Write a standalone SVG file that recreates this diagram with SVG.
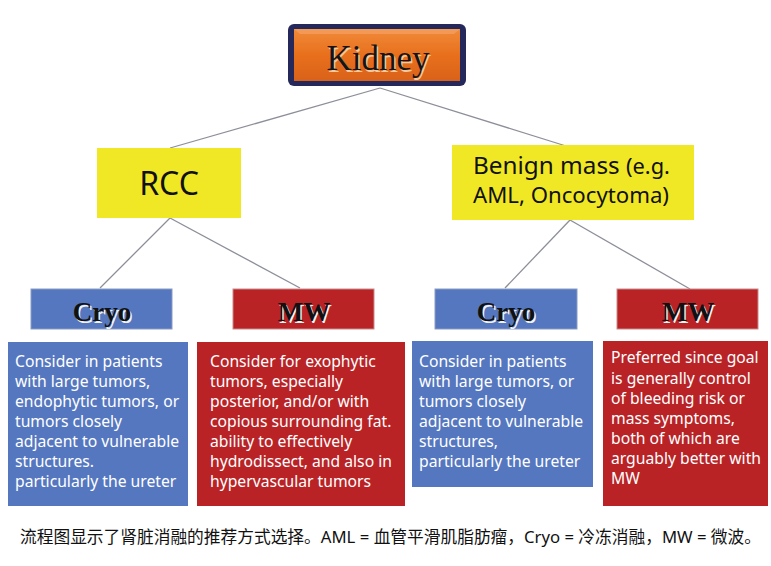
<svg xmlns="http://www.w3.org/2000/svg" width="771" height="566" viewBox="0 0 771 566">
<style>
.conn{stroke:#8c8f99;stroke-width:1.3;fill:none}
.yel{fill:#f1e825}
.blue{fill:#5577bf}
.red{fill:#b92326}
.hdr{fill:#5577bf;stroke:#8a9bc4;stroke-width:1}
.hdrr{fill:#b92326;stroke:#c98a8a;stroke-width:1}
.lbl{font-family:"Liberation Serif",serif;font-weight:bold;font-size:27px;text-anchor:middle;fill:#111}
.lblsh{font-family:"Liberation Serif",serif;font-weight:bold;font-size:27px;text-anchor:middle;fill:#f2f2f2}
.sans{font-family:"Noto Sans","Open Sans",sans-serif}
.desc{font-family:"Noto Sans","Open Sans",sans-serif;font-size:15.7px;fill:#fff}
.cap{font-family:"Noto Sans","Noto Sans CJK SC",sans-serif;font-size:16.8px;fill:#111}
</style>
<defs>
<linearGradient id="og" x1="0" y1="0" x2="0" y2="1">
<stop offset="0" stop-color="#f08a3a"/>
<stop offset="0.5" stop-color="#e8701c"/>
<stop offset="1" stop-color="#d9621a"/>
</linearGradient>
</defs>
<rect width="771" height="566" fill="#fff"/>
<g id="connectors">
<line class="conn" x1="380" y1="88" x2="170" y2="148"/>
<line class="conn" x1="380" y1="88" x2="566" y2="146"/>
<line class="conn" x1="170" y1="218" x2="100" y2="288"/>
<line class="conn" x1="170" y1="218" x2="300" y2="288"/>
<line class="conn" x1="570" y1="220" x2="505" y2="288"/>
<line class="conn" x1="570" y1="220" x2="690" y2="289"/>
</g>
<g id="kidney">
<rect x="288" y="24" width="178" height="62" rx="6" fill="#25285a"/>
<rect x="294" y="29" width="166" height="52" fill="url(#og)"/>
<path d="M294 29 L460 29 L454 34 L300 34 Z" fill="#f5a56a" opacity="0.6"/>
<text x="379.5" y="71.5" font-family="'Liberation Serif',serif" font-size="35" text-anchor="middle" fill="#f6c9a0">Kidney</text>
<text x="378" y="70" font-family="'Liberation Serif',serif" font-size="35" text-anchor="middle" fill="#151515">Kidney</text>
</g>
<g id="rcc">
<rect class="yel" x="97" y="148" width="144" height="70"/>
<text class="sans" x="169" y="195" font-size="32" text-anchor="middle" fill="#111">RCC</text>
</g>
<g id="benign">
<rect class="yel" x="452" y="145" width="242" height="75"/>
<text class="sans" x="473" y="174" font-size="24.3" fill="#111">Benign mass <tspan font-size="21.8">(e.g.</tspan></text>
<text class="sans" x="473" y="203" font-size="22.2" fill="#111">AML, Oncocytoma)</text>
</g>
<g id="cryo1">
<rect class="hdr" x="31" y="289" width="141" height="40"/>
<text class="lblsh" x="103.5" y="322.5">Cryo</text>
<text class="lbl" x="102" y="321">Cryo</text>
</g>
<g id="mw1">
<rect class="hdrr" x="233" y="289" width="141" height="40"/>
<text class="lblsh" x="305.5" y="322.5">MW</text>
<text class="lbl" x="304" y="321">MW</text>
</g>
<g id="cryo2">
<rect class="hdr" x="435" y="289" width="142" height="40"/>
<text class="lblsh" x="507.5" y="322.5">Cryo</text>
<text class="lbl" x="506" y="321">Cryo</text>
</g>
<g id="mw2">
<rect class="hdrr" x="617" y="289" width="141" height="40"/>
<text class="lblsh" x="689.5" y="322.5">MW</text>
<text class="lbl" x="688" y="321">MW</text>
</g>
<g id="desc-cryo1">
<rect class="blue" x="8" y="342" width="180" height="164"/>
<text class="desc" x="15" y="367">Consider in patients</text>
<text class="desc" x="15" y="387">with large tumors,</text>
<text class="desc" x="15" y="407">endophytic tumors, or</text>
<text class="desc" x="15" y="427">tumors closely</text>
<text class="desc" x="15" y="447">adjacent to vulnerable</text>
<text class="desc" x="15" y="467">structures.</text>
<text class="desc" x="15" y="487">particularly the ureter</text>
</g>
<g id="desc-mw1">
<rect class="red" x="197" y="342" width="208" height="164"/>
<text class="desc" x="210" y="367">Consider for exophytic</text>
<text class="desc" x="210" y="387">tumors, especially</text>
<text class="desc" x="210" y="407">posterior, and/or with</text>
<text class="desc" x="210" y="427">copious surrounding fat.</text>
<text class="desc" x="210" y="447">ability to effectively</text>
<text class="desc" x="210" y="467">hydrodissect, and also in</text>
<text class="desc" x="210" y="487">hypervascular tumors</text>
</g>
<g id="desc-cryo2">
<rect class="blue" x="412" y="341" width="181" height="146"/>
<text class="desc" x="419" y="367">Consider in patients</text>
<text class="desc" x="419" y="387">with large tumors, or</text>
<text class="desc" x="419" y="407">tumors closely</text>
<text class="desc" x="419" y="427">adjacent to vulnerable</text>
<text class="desc" x="419" y="447">structures,</text>
<text class="desc" x="419" y="467">particularly the ureter</text>
</g>
<g id="desc-mw2">
<rect class="red" x="603" y="341" width="165" height="165"/>
<text class="desc" x="611" y="363" font-size="15.2">Preferred since goal</text>
<text class="desc" x="611" y="384" font-size="15.2">is generally control</text>
<text class="desc" x="611" y="404" font-size="15.2">of bleeding risk or</text>
<text class="desc" x="611" y="424" font-size="15.2">mass symptoms,</text>
<text class="desc" x="611" y="444" font-size="15.2">both of which are</text>
<text class="desc" x="611" y="464" font-size="15.2">arguably better with</text>
<text class="desc" x="611" y="484" font-size="15.2">MW</text>
</g>
<text class="cap" x="20" y="543" textLength="741" lengthAdjust="spacingAndGlyphs">流程图显示了肾脏消融的推荐方式选择。AML = 血管平滑肌脂肪瘤，Cryo = 冷冻消融，MW = 微波。</text>
</svg>
